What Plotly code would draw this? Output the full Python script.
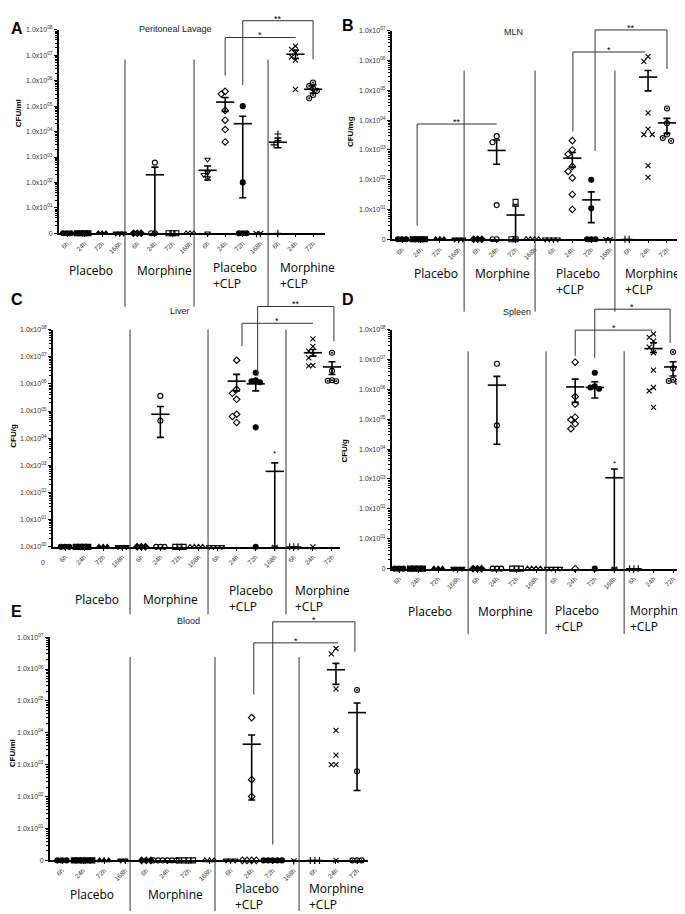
import math
import plotly.graph_objects as go

W, H = 685, 914          # reference picture size
PAGE_OFF = 8             # default body margin of the html page
FW, FH = W - PAGE_OFF, H - PAGE_OFF
BASE = 1.0  # zero values are drawn on the 10^0 baseline

CATEGORIES = ["6h", "24h", "72h", "168h", "6h", "24h", "72h", "168h",
              "6h", "24h", "72h", "168h", "6h", "24h", "72h"]
GROUPS = ["Placebo", "Morphine", "Placebo<br>+CLP", "Morphine<br>+CLP"]
SYMBOLS = ["circle", "square", "triangle-up", "triangle-down", "diamond",
           "circle-open", "square-open", "triangle-up-open", "triangle-down-open",
           "diamond-open", "circle", "y-down-open", "cross-thin-open",
           "x-thin-open", "circle-open-dot"]

# ---------------- Panel A: Peritoneal Lavage (CFU/ml) ----------------
A_points = [
    [0, 0, 0], [0, 0, 0, 0], [0, 0, 0], [0, 0, 0],
    [0, 0, 0], [600, 0, 0], [0, 0, 0], [0, 0, 0],
    [800, 250, 200, 150, 0], [380000, 300000, 68000, 28000, 12000, 3900],
    [100000, 100, 0, 0, 0], [0, 0],
    [8000, 4400, 3000, 0], [23e6, 17e6, 12e6, 8.7e6, 6.5e6, 460000],
    [850000, 620000, 500000, 400000, 275000, 205000],
]
A_mean = [None, None, None, None, None, 200, None, None, 300, 144000, 20400, None, 3800, 11e6, 460000]
A_upper = [None, None, None, None, None, 400, None, None, 440, 218000, 40000, None, 5600, 16e6, 680000]
A_lower = [None, None, None, None, None, 0, None, None, 125, 62000, 25, None, 2300, 7.5e6, 320000]

# ---------------- Panel B: MLN (CFU/mg) ----------------
B_points = [
    [0, 0, 0], [0, 0, 0, 0], [0, 0, 0], [0, 0, 0],
    [0, 0, 0], [2900, 1800, 14, 0, 0], [18, 0, 0], [0, 0, 0, 0],
    [0, 0, 0, 0], [2050, 1000, 720, 280, 190, 115, 32, 10], [100, 11, 0, 0, 0], [0, 0],
    [0, 0], [1.36e6, 950000, 17600, 5000, 3300, 3300, 295, 120],
    [24500, 7800, 3300, 2500, 2000],
]
B_mean = [None, None, None, None, None, 960, 6.5, None, None, 530, 21, None, None, 280000, 8100]
B_upper = [None, None, None, None, None, 2150, 13, None, None, 820, 39, None, None, 465000, 11500]
B_lower = [None, None, None, None, None, 330, 0, None, None, 265, 3.6, None, None, 96000, 3600]

# ---------------- Panel C: Liver (CFU/g) ----------------
C_points = [
    [0, 0, 0], [0, 0, 0, 0], [0, 0, 0], [0, 0, 0],
    [0, 0, 0], [360000, 44000, 0, 0, 0], [0, 0, 0], [0, 0, 0, 0],
    [0, 0, 0, 0], [7.4e6, 630000, 450000, 270000, 76000, 63000, 38000],
    [2.57e6, 1.35e6, 1.25e6, 1.15e6, 25000, 0], [0],
    [0, 0, 0], [45e6, 24e6, 16e6, 12e6, 9.1e6, 4.8e6, 4.6e6, 0],
    [14e6, 3e6, 1.35e6, 1.3e6, 1.25e6],
]
C_mean = [None, None, None, None, None, 76000, None, None, None, 1.26e6, 1.0e6, 600, None, 14e6, 4.2e6]
C_upper = [None, None, None, None, None, 146000, None, None, None, 2.24e6, 1.35e6, 1230, None, 18.5e6, 6.5e6]
C_lower = [None, None, None, None, None, 10700, None, None, None, 550000, 550000, 0, None, 10.5e6, 2.2e6]

# ---------------- Panel D: Spleen (CFU/g) ----------------
D_points = [
    [0, 0, 0], [0, 0, 0, 0], [0, 0, 0], [0, 0, 0],
    [0, 0, 0], [7.2e6, 62000, 0, 0, 0], [0, 0, 0], [0, 0, 0, 0],
    [0, 0, 0, 0], [8.1e6, 570000, 320000, 117000, 96000, 70000, 48000, 0],
    [3.6e6, 1.25e6, 1.15e6, 1.05e6, 0], [0],
    [0, 0, 0], [71e6, 55e6, 41e6, 26e6, 16.7e6, 4.4e6, 1.15e6, 890000, 250000],
    [17.7e6, 5e6, 2.1e6, 1.9e6, 1.8e6],
]
D_mean = [None, None, None, None, None, 1.38e6, None, None, None, 1.2e6, 1.15e6, 1100, None, 23e6, 5.6e6]
D_upper = [None, None, None, None, None, 2.7e6, None, None, None, 2.2e6, 1.8e6, 2150, None, 36e6, 8.4e6]
D_lower = [None, None, None, None, None, 14500, None, None, None, 365000, 510000, 0, None, 17e6, 2.8e6]

# ---------------- Panel E: Blood (CFU/ml) ----------------
E_points = [
    [0, 0, 0], [0, 0, 0, 0, 0], [0, 0, 0], [0, 0],
    [0, 0, 0], [0, 0, 0, 0, 0, 0], [0, 0, 0, 0], [0, 0, 0],
    [0, 0, 0], [30000, 340, 100, 0, 0, 0, 0], [0, 0, 0, 0, 0], [0],
    [0, 0, 0], [4.4e6, 3e6, 240000, 12000, 2000, 1000, 1000, 0],
    [220000, 620, 0, 0, 0],
]
E_mean = [None] * 9 + [4400, None, None, None, 950000, 43000]
E_upper = [None] * 9 + [8500, None, None, None, 1.5e6, 86000]
E_lower = [None] * 9 + [78, None, None, None, 330000, 155]

# brackets: (x_from, x_to, top, left_leg_bottom, right_leg_bottom, label) in category / log10 units
A_brackets = [(9, 13, 7.7, 6.2, 7.7, "*"), (10, 14, 8.36, 5.82, 6.84, "**")]
B_brackets = [(0.8, 5, 3.87, 0.46, 3.87, "**"), (9.03, 12.85, 6.29, 3.62, 6.29, "*"),
              (10.2, 14, 7.03, 2.96, 5.72, "**")]
C_brackets = [(10.1, 14.1, 8.85, 6.29, 7.57, "**"), (9.28, 13.0, 8.23, 7.39, 8.23, "*")]
D_brackets = [(10.0, 13.85, 8.68, 7.05, 7.55, "*"), (9.0, 12.93, 7.98, 7.12, 7.98, "*")]
E_brackets = [(10.0, 13.9, 7.48, 0.5, 6.54, "*"), (9.1, 13.1, 6.82, 5.2, 6.82, "*")]

# ---------------- layout (pixel geometry of the reference) ----------------
PANELS = [
    dict(letter="A", letter_xy=(8.5, 25), title="Peritoneal Lavage", title_xy=(175, 25),
         ytitle="CFU/ml", ytitle_xy=(18, 110), pts=A_points, mean=A_mean, hi=A_upper, lo=A_lower,
         ymax=8, box=(59, 325, 26, 231), xr=(-0.455, 14.68), base_text="0",
         seps=[3.3, 7.23, 11.44], sep_y=(56, 305), brackets=A_brackets, notes=[],
         labels=[(91, 269, "c"), (164, 269, "c"), (211, 273.5, "l"), (278, 273.5, "l")]),
    dict(letter="B", letter_xy=(340, 22), title="MLN", title_xy=(513, 28),
         ytitle="CFU/mg", ytitle_xy=(350, 129), pts=B_points, mean=B_mean, hi=B_upper, lo=B_lower,
         ymax=7, box=(392, 677, 27, 237), xr=(-0.53, 14.53), base_text="0",
         seps=[3.28, 7.03, 11.25], sep_y=(67, 310), brackets=B_brackets, notes=[],
         labels=[(436, 272, "c"), (502, 272, "c"), (554, 279.5, "l"), (623, 279.5, "l")]),
    dict(letter="C", letter_xy=(9, 298), title="Liver", title_xy=(180, 309),
         ytitle="CFU/g", ytitle_xy=(14, 435), pts=C_points, mean=C_mean, hi=C_upper, lo=C_lower,
         ymax=8, box=(53, 340, 328, 547), xr=(-0.63, 14.42), base_text="1.0x10<sup>00</sup>",
         seps=[3.41, 7.5, 11.59], sep_y=(328, 615), brackets=C_brackets, notes=[(11, 3.42)],
         labels=[(97, 600, "c"), (170, 600, "c"), (227, 599.5, "l"), (293, 599.5, "l")]),
    dict(letter="D", letter_xy=(340, 298), title="Spleen", title_xy=(517, 310),
         ytitle="CFU/g", ytitle_xy=(345, 450), pts=D_points, mean=D_mean, hi=D_upper, lo=D_lower,
         ymax=8, box=(392, 685, 328, 569), xr=(-0.36, 14.61), base_text="0",
         seps=[3.53, 7.51, 11.5], sep_y=(350, 635), brackets=D_brackets, notes=[(11, 3.52)],
         labels=[(430, 612, "c"), (505, 612, "c"), (553, 619.5, "l"), (628, 619.5, "l")]),
    dict(letter="E", letter_xy=(8.5, 612), title="Blood", title_xy=(188, 622),
         ytitle="CFU/ml", ytitle_xy=(12, 755), pts=E_points, mean=E_mean, hi=E_upper, lo=E_lower,
         ymax=7, box=(50, 368, 638, 863), xr=(-0.57, 14.52), base_text="0",
         seps=[3.23, 7.26, 11.25], sep_y=(658, 914), brackets=E_brackets, notes=[],
         labels=[(92, 897, "c"), (175, 897, "c"), (233, 899.5, "l"), (307, 899.5, "l")]),
]

FONT = "Liberation Sans"
GFONT = "Open Sans"
STEP = 0.22     # horizontal spread between overlapping dots (category units)
THR = 0.22      # vertical overlap threshold (log10 units)


def px(x):
    return (x - PAGE_OFF) / FW


def py(y):
    return 1 - (y - PAGE_OFF) / FH


fig = go.Figure()
layout = dict(width=FW, height=FH, margin=dict(l=0, r=0, t=0, b=0), autosize=False,
              paper_bgcolor="white", plot_bgcolor="white", showlegend=False,
              font=dict(family=FONT, color="black"))
shapes, annots = [], []

for i, p in enumerate(PANELS):
    n = i + 1
    xa = "x" if n == 1 else f"x{n}"
    ya = "y" if n == 1 else f"y{n}"
    xkey = "xaxis" if n == 1 else f"xaxis{n}"
    ykey = "yaxis" if n == 1 else f"yaxis{n}"
    x0, x1, yt, yb = p["box"]
    ymax = p["ymax"]

    # scattered individual values
    xs, ys, syms = [], [], []
    for c, vals in enumerate(p["pts"]):
        placed = []
        for v in vals:
            pv = v if v > 0 else BASE
            lv = math.log10(pv)
            off = 0.0
            for k in range(0, 14):
                off = ((k + 1) // 2) * STEP * (-1 if k % 2 else 1)
                if all(abs(off - o) > STEP * 0.9 or abs(lv - l) > THR for o, l in placed):
                    break
            placed.append((off, lv))
            xs.append(c + off)
            ys.append(pv)
            syms.append(SYMBOLS[c])
    fig.add_trace(go.Scatter(
        x=xs, y=ys, mode="markers", xaxis=xa, yaxis=ya, cliponaxis=False, hoverinfo="skip",
        marker=dict(symbol=syms, size=5, color="black", line=dict(color="black", width=1.1))))

    # mean +/- SEM
    mx, my, eu, ed = [], [], [], []
    for c, m in enumerate(p["mean"]):
        if m is None:
            continue
        hi = p["hi"][c]
        lo = p["lo"][c] if p["lo"][c] else BASE
        mx.append(c)
        my.append(m)
        eu.append(hi - m)
        ed.append(m - lo)
    fig.add_trace(go.Scatter(
        x=mx, y=my, mode="markers", xaxis=xa, yaxis=ya, cliponaxis=False, hoverinfo="skip",
        marker=dict(symbol="line-ew-open", size=13, color="black",
                    line=dict(color="black", width=1.6)),
        error_y=dict(type="data", symmetric=False, array=eu, arrayminus=ed,
                     color="black", thickness=1.6, width=3.5)))

    layout[xkey] = dict(
        domain=[px(x0), min(px(x1), 1.0)], range=list(p["xr"]), anchor=ya,
        tickmode="array", tickvals=list(range(len(CATEGORIES))), ticktext=CATEGORIES,
        tickangle=-45, tickfont=dict(size=6.5, family=FONT, color="#333"),
        showline=True, linecolor="black", linewidth=2, ticks="outside", ticklen=2,
        tickcolor="black", showgrid=False, zeroline=False, fixedrange=True)
    ticktext = [p["base_text"]] + [f"1.0x10<sup>{k:02d}</sup>" for k in range(1, ymax + 1)]
    layout[ykey] = dict(
        domain=[py(yb), py(yt)], type="log", range=[0, ymax], anchor=xa,
        tickmode="array", tickvals=[10 ** k for k in range(ymax + 1)], ticktext=ticktext,
        tickfont=dict(size=7, family=FONT, color="#333"),
        showline=True, linecolor="black", linewidth=2, ticks="outside", ticklen=3,
        tickcolor="black", tickwidth=1.2,
        minor=dict(ticks="outside", ticklen=2, dtick="D1", tickcolor="black", tickwidth=1),
        showgrid=False, zeroline=False, fixedrange=True)

    ydom = f"{ya} domain"

    # group separators
    for sx in p["seps"]:
        shapes.append(dict(type="line", xref=xa, yref="paper", x0=sx, x1=sx,
                           y0=py(p["sep_y"][1]), y1=py(p["sep_y"][0]),
                           line=dict(color="#333", width=1)))

    # significance brackets
    for bx0, bx1, top, lb, rb, lab in p["brackets"]:
        t = top / ymax
        shapes.append(dict(type="line", xref=xa, yref=ydom, x0=bx0, x1=bx1, y0=t, y1=t,
                           line=dict(color="#333", width=1)))
        shapes.append(dict(type="line", xref=xa, yref=ydom, x0=bx0, x1=bx0, y0=lb / ymax, y1=t,
                           line=dict(color="#333", width=1)))
        if rb < top:
            shapes.append(dict(type="line", xref=xa, yref=ydom, x0=bx1, x1=bx1, y0=rb / ymax, y1=t,
                               line=dict(color="#333", width=1)))
        annots.append(dict(text=lab, xref=xa, yref=ydom, x=(bx0 + bx1) / 2, y=t, yshift=-5,
                           xanchor="center", yanchor="bottom", showarrow=False,
                           font=dict(size=9, family=FONT, color="black")))
    for nx, ny in p["notes"]:
        annots.append(dict(text="*", xref=xa, yref=ydom, x=nx, y=ny / ymax, xanchor="center",
                           yanchor="middle", showarrow=False, font=dict(size=8, family=FONT, color="black")))

    # titles, letters, axis titles
    lx, ly = p["letter_xy"]
    annots.append(dict(text=f"<b>{p['letter']}</b>", xref="paper", yref="paper", x=px(lx), y=py(ly),
                       xanchor="left", yanchor="middle", showarrow=False,
                       font=dict(size=16, family=FONT, color="black")))
    tx, ty = p["title_xy"]
    annots.append(dict(text=p["title"], xref="paper", yref="paper", x=px(tx), y=py(ty),
                       xanchor="center", yanchor="middle", showarrow=False,
                       font=dict(size=9, family=FONT, color="#222")))
    ax_, ay_ = p["ytitle_xy"]
    annots.append(dict(text=f"<b>{p['ytitle']}</b>", xref="paper", yref="paper", x=px(ax_), y=py(ay_),
                       xanchor="center", yanchor="middle", textangle=-90, showarrow=False,
                       font=dict(size=8, family=FONT, color="black")))
    # group labels
    for (gx, gy, al), g in zip(p["labels"], GROUPS):
        annots.append(dict(text=g, xref="paper", yref="paper", x=px(gx), y=py(gy),
                           xanchor="center" if al == "c" else "left", align="left",
                           yanchor="middle", showarrow=False,
                           font=dict(size=12, family=GFONT, color="black")))

# stray "0" label under panel C's axis
annots.append(dict(text="0", xref="paper", yref="paper", x=px(43), y=py(563), xanchor="center",
                   yanchor="middle", showarrow=False, font=dict(size=7, family=FONT, color="#333")))

layout["shapes"] = shapes
layout["annotations"] = annots
fig.update_layout(**layout)
fig.write_html("out.html")
